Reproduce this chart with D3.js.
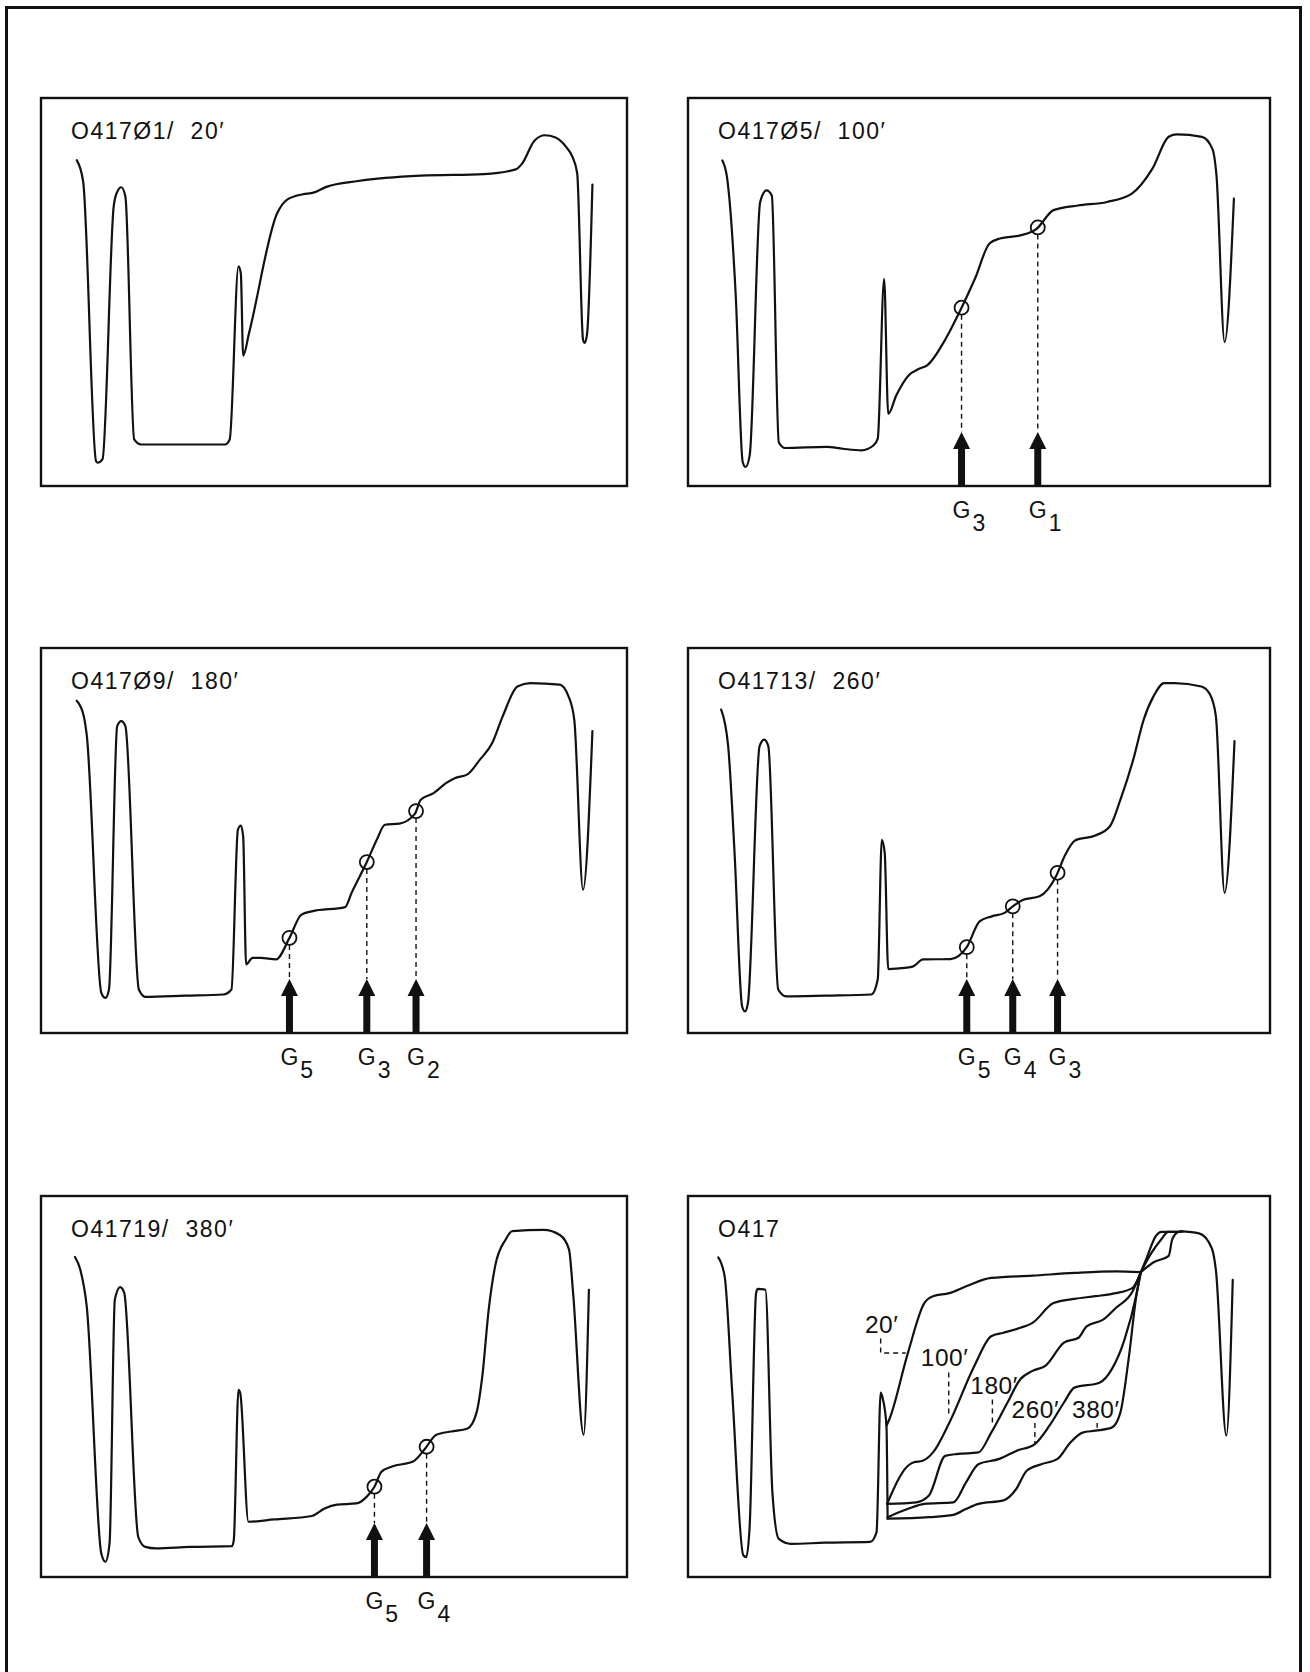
<!DOCTYPE html>
<html><head><meta charset="utf-8">
<script src="https://cdn.jsdelivr.net/npm/d3@7"></script>
<style>
html,body{margin:0;padding:0;background:#fff;}
svg{display:block;}
text{font-family:"Liberation Sans",Arial,sans-serif;fill:#111;white-space:pre;}
</style>
</head><body>
<svg id="chart" width="1310" height="1672"></svg>
<script>
// ---------- DATA (scan position u 0..100, absorbance v 0..100) ----------
const titles = ["O417Ø1/  20′","O417Ø5/  100′","O417Ø9/  180′","O41713/  260′","O41719/  380′","O417"];

const curve20 = [[6.1,84.0],[7.2,78.4],[9.4,6.4],[9.7,6.0],[10.5,6.9],[12.4,72.0],[13.0,75.8],[13.7,77.0],[14.4,74.6],[15.9,12.0],[17.1,10.7],[23.9,10.7],[31.4,10.7],[32.2,12.0],[33.7,56.6],[34.1,54.8],[34.5,33.6],[35.5,39.4],[40.3,70.3],[41.9,73.7],[44.7,75.2],[46.5,75.6],[48.7,77.1],[54.1,78.6],[64.8,80.0],[75.6,80.4],[81.0,81.6],[82.1,83.1],[84.2,89.0],[86.0,90.4],[87.8,89.8],[89.6,87.4],[90.7,84.8],[91.5,80.6],[92.5,37.7],[92.8,36.9],[93.2,39.4],[94.1,77.7]];

const curve100 = [[5.9,83.9],[6.7,79.6],[8.2,49.1],[9.4,6.2],[9.9,4.9],[10.6,7.9],[12.4,73.2],[13.5,76.2],[14.4,74.9],[15.6,11.3],[16.7,9.8],[23.8,10.1],[26.6,9.6],[29.8,9.2],[31.9,10.5],[32.6,12.2],[33.7,53.4],[34.4,18.6],[35.8,23.4],[37.9,28.5],[39.7,30.2],[41.1,31.1],[44.3,38.0],[46.8,45.3],[49.3,53.4],[51.8,62.5],[53.6,63.8],[57.1,64.6],[59.9,66.3],[62.8,71.1],[67.0,72.3],[72.0,73.2],[76.2,75.3],[79.8,81.8],[82.6,90.0],[84.0,90.6],[88.3,90.0],[90.1,86.9],[90.8,80.1],[92.2,37.1],[93.8,74.1]];

const curve180 = [[6.1,86.3],[7.3,82.3],[7.8,77.5],[10.3,10.4],[11.0,9.1],[11.6,11.3],[13.0,79.7],[13.7,81.0],[14.4,79.7],[16.7,11.3],[17.8,9.4],[24.6,9.7],[31.1,10.0],[32.5,11.3],[33.6,52.8],[34.1,53.9],[34.5,51.1],[35.0,17.8],[36.1,19.5],[37.5,19.5],[40.1,19.1],[42.4,24.7],[44.4,30.7],[46.2,31.6],[51.9,32.7],[53.0,36.4],[55.6,44.4],[57.3,50.2],[58.7,54.1],[61.2,54.4],[63.8,56.9],[64.8,60.6],[67.0,62.3],[69.1,64.9],[70.6,66.2],[72.7,67.1],[74.9,71.0],[77.0,75.3],[78.8,82.3],[81.3,90.0],[83.5,90.9],[88.5,90.5],[90.0,87.5],[91.0,81.4],[92.5,37.2],[94.1,78.4]];

const curve260 = [[5.7,84.0],[6.9,74.5],[8.0,46.8],[9.3,6.9],[9.8,5.6],[10.3,7.8],[12.3,74.5],[13.1,76.2],[13.8,74.5],[15.5,11.3],[16.9,9.5],[23.7,9.7],[31.5,10.0],[32.6,13.9],[33.3,50.2],[33.8,46.8],[34.4,16.6],[37.2,16.9],[38.7,17.3],[40.4,19.1],[45.1,19.2],[47.9,22.3],[50.1,29.0],[52.2,30.3],[54.4,31.2],[55.8,32.9],[57.6,34.6],[60.4,35.5],[63.3,40.9],[64.7,45.9],[66.5,50.0],[70.0,51.3],[72.5,53.7],[74.3,60.6],[76.5,71.0],[78.3,81.4],[80.0,87.5],[81.8,90.9],[83.6,90.9],[88.2,90.0],[89.7,87.9],[90.7,82.3],[92.2,36.4],[93.9,75.8]];

const curve380 = [[5.8,84.0],[6.7,80.7],[7.8,71.1],[10.3,6.1],[11.0,4.0],[11.7,8.8],[12.6,72.8],[13.5,76.1],[14.2,74.6],[16.6,10.5],[17.8,7.9],[19.6,7.5],[25.4,7.9],[32.6,8.1],[32.9,9.7],[33.7,49.1],[34.0,48.3],[35.4,14.5],[39.8,15.1],[46.2,16.0],[48.4,18.0],[50.5,19.0],[53.8,19.3],[55.6,21.1],[56.9,23.7],[58.1,27.6],[59.9,29.0],[63.5,30.3],[65.6,33.8],[67.4,37.3],[70.0,38.2],[72.8,39.0],[74.3,43.0],[75.3,52.6],[76.4,70.2],[77.5,81.6],[79.3,88.6],[80.4,90.8],[85.8,91.1],[88.6,89.7],[90.1,86.0],[90.8,74.6],[92.6,37.3],[93.5,75.4]];

// gel markers (arrows) per panel: position u and subscript
const marks100U = [47.0, 60.1], marks100Sub = ["3","1"];
const marks180U = [42.4, 55.6, 64.0], marks180Sub = ["5","3","2"];
const marks260U = [47.9, 55.8, 63.5], marks260Sub = ["5","4","3"];
const marks380U = [56.9, 65.8], marks380Sub = ["5","4"];

// overlay panel (O417)
const overlayBase = [[5.2,83.9],[6.3,78.9],[7.6,48.4],[9.5,5.7],[10.0,5.2],[10.6,13.5],[11.7,74.5],[12.0,75.6],[13.3,75.4],[14.5,22.2],[15.6,10.0],[17.7,8.7],[23.5,9.0],[31.3,9.2],[32.4,11.8],[33.1,48.4],[33.5,46.6],[34.1,39.7],[34.3,15.3]];
const ov20  = [[34.1,39.7],[34.6,41.4],[37.8,58.9],[40.6,71.9],[42.1,73.7],[44.9,74.5],[47.8,76.3],[52.1,78.5],[59.2,79.1],[66.4,79.8],[73.5,80.2],[77.8,80.0]];
const ov100 = [[34.2,19.2],[37.8,29.2],[38.8,30.1],[40.3,30.5],[42.1,32.7],[44.9,40.5],[49.2,55.4],[52.1,63.2],[54.2,64.1],[57.1,65.4],[59.2,66.7],[62.8,71.9],[66.4,73.0],[70.0,73.7],[73.5,74.5],[76.4,75.9],[77.8,80.0]];
const ov180 = [[34.2,19.2],[39.2,19.6],[41.4,21.4],[44.2,31.8],[46.4,32.3],[49.9,32.7],[52.1,37.9],[54.9,45.8],[57.1,51.9],[59.2,54.1],[61.4,55.4],[64.6,61.5],[67.1,62.8],[68.5,65.8],[71.4,67.6],[73.5,70.6],[76.4,75.0],[77.8,80.0]];
const ov260 = [[34.3,15.7],[37.8,17.9],[40.6,19.2],[45.6,19.6],[47.8,24.9],[49.9,29.6],[53.5,31.0],[56.4,33.1],[59.6,34.9],[62.1,39.7],[64.6,45.8],[66.4,49.7],[70.7,51.0],[72.8,54.5],[75.0,62.3],[77.1,74.5],[77.8,80.0]];
const ov380 = [[34.3,15.3],[41.4,15.7],[45.6,16.3],[47.8,17.9],[49.9,19.2],[54.2,20.1],[56.4,23.1],[58.2,27.9],[60.7,29.6],[63.5,31.0],[65.7,35.3],[67.8,37.9],[70.0,38.4],[72.8,39.2],[74.3,43.2],[75.7,57.1],[77.1,74.5],[77.8,80.0]];
const ovStrandA = [[77.8,80.0],[78.9,84.1],[80.3,89.3],[81.4,90.6],[84.6,90.6]];
const ovStrandB = [[77.8,80.0],[79.6,85.0],[81.4,88.8],[82.5,90.6],[84.6,90.6]];
const ovStrandC = [[77.8,80.0],[80.0,82.6],[82.6,84.3],[83.2,88.6],[84.3,90.6],[85.0,90.7]];
const ovRight = [[84.6,90.7],[87.8,90.2],[90.0,86.3],[90.7,80.6],[92.5,37.1],[93.6,78.0]];

const ovLabelText = ["20′","100′","180′","260′","380′"];
const ovLabelU = [30.4, 40.0, 48.5, 55.6, 66.0];
const ovLabelV = [64.1, 55.3, 48.1, 41.8, 41.8];
const ovLeaders = [
  [[33.1,62.6],[33.1,58.8],[37.4,58.8]],
  [[44.8,53.7],[44.8,42.7]],
  [[52.3,46.6],[52.3,39.6]],
  [[59.6,40.4],[59.6,34.8]],
  [[70.3,40.4],[70.3,39.2]]
];

// ---------- DRAWING ----------
const ink = "#111";
const svg = d3.select("#chart");
const cols = [[41,627],[688,1270]];
const rows = [[98,486],[648,1033],[1196,1577]];

// outer frame
svg.append("path").attr("d","M6.5,1672V7.5H1300.5V1672")
  .attr("fill","none").attr("stroke",ink).attr("stroke-width",3);

const panels = [
  {title:titles[0], curve:curve20,  mu:[],        ms:[],          c:0, r:0},
  {title:titles[1], curve:curve100, mu:marks100U, ms:marks100Sub, c:1, r:0},
  {title:titles[2], curve:curve180, mu:marks180U, ms:marks180Sub, c:0, r:1},
  {title:titles[3], curve:curve260, mu:marks260U, ms:marks260Sub, c:1, r:1},
  {title:titles[4], curve:curve380, mu:marks380U, ms:marks380Sub, c:0, r:2},
  {title:titles[5], curve:null,     mu:[],        ms:[],          c:1, r:2}
];

function interp(curve, u){
  for(let i=0;i<curve.length-1;i++){
    const a=curve[i], b=curve[i+1];
    if(u>=a[0] && u<=b[0]){
      const t=(u-a[0])/(b[0]-a[0]);
      return a[1]+t*(b[1]-a[1]);
    }
  }
  return null;
}

panels.forEach(p=>{
  const [x0,x1]=cols[p.c], [y0,y1]=rows[p.r];
  const x=d3.scaleLinear().domain([0,100]).range([x0,x1]);
  const y=d3.scaleLinear().domain([0,100]).range([y1,y0]);
  const g=svg.append("g");
  const line=d3.line().x(d=>x(d[0])).y(d=>y(d[1])).curve(d3.curveMonotoneX);
  const straight=d3.line().x(d=>x(d[0])).y(d=>y(d[1]));

  g.append("rect").attr("x",x0).attr("y",y0).attr("width",x1-x0).attr("height",y1-y0)
    .attr("fill","none").attr("stroke",ink).attr("stroke-width",2.4);

  g.append("text").attr("x",x0+30).attr("y",y0+41)
    .attr("font-size",23).attr("letter-spacing",1.5).text(p.title);

  const curveStyle = sel => sel.attr("fill","none").attr("stroke",ink)
    .attr("stroke-width",2.2).attr("stroke-linejoin","round").attr("stroke-linecap","round");

  if(p.curve){
    g.append("path").attr("d",line(p.curve)).call(curveStyle);
  } else {
    [overlayBase, ov20, ov100, ov180, ov260, ov380, ovStrandA, ovStrandB, ovStrandC, ovRight]
      .forEach(c=>g.append("path").attr("d",line(c)).call(curveStyle));
    ovLabelText.forEach((t,i)=>{
      g.append("text").attr("x",x(ovLabelU[i])).attr("y",y(ovLabelV[i]))
        .attr("font-size",24.5).attr("letter-spacing",0.5).text(t);
      g.append("path").attr("d",straight(ovLeaders[i]))
        .attr("fill","none").attr("stroke",ink).attr("stroke-width",1.4).attr("stroke-dasharray","5,4");
    });
  }

  // markers
  p.mu.forEach((u,i)=>{
    const cx=x(u), cy=y(interp(p.curve,u));
    const r=7;
    const tip=y1-54, headH=17, headW=17, shaftW=7;
    g.append("line").attr("x1",cx).attr("x2",cx).attr("y1",cy+r).attr("y2",tip)
      .attr("stroke",ink).attr("stroke-width",1.4).attr("stroke-dasharray","5,4");
    g.append("circle").attr("cx",cx).attr("cy",cy).attr("r",r)
      .attr("fill","none").attr("stroke",ink).attr("stroke-width",1.8);
    g.append("path").attr("d",
      `M${cx},${tip}L${cx+headW/2},${tip+headH}L${cx+shaftW/2},${tip+headH}L${cx+shaftW/2},${y1}L${cx-shaftW/2},${y1}L${cx-shaftW/2},${tip+headH}L${cx-headW/2},${tip+headH}Z`)
      .attr("fill",ink);
    const t=g.append("text").attr("x",cx-9).attr("y",y1+32).attr("font-size",23);
    t.append("tspan").attr("font-size",23).text("G");
    t.append("tspan").attr("dx",2).attr("dy",13).attr("font-size",23).text(p.ms[i]);
  });
});
</script>
</body></html>
